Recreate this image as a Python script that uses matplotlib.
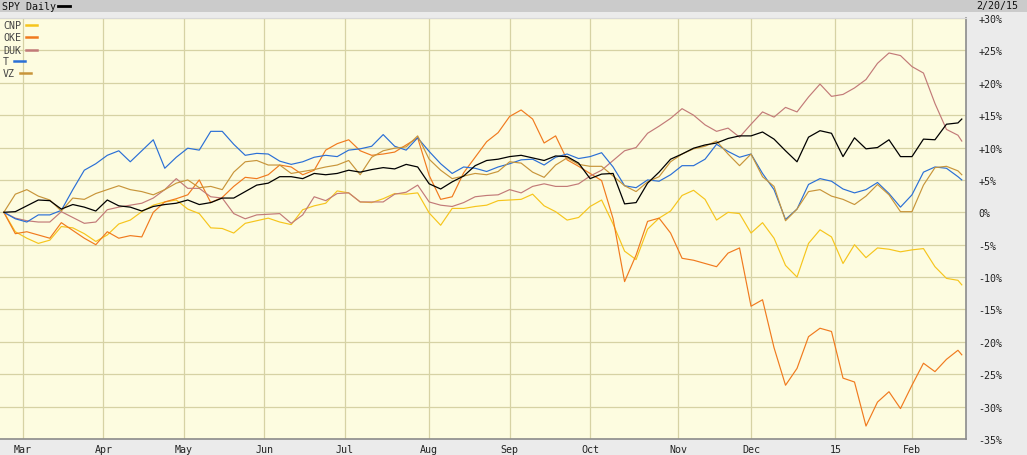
import numpy as np
import matplotlib
matplotlib.use('Agg')
import matplotlib.pyplot as plt
from matplotlib.patches import Rectangle
from matplotlib.lines import Line2D

# trading-day index since 2/24/14, sampled every 3 sessions, last point 2/20/15
days = np.r_[np.arange(0, 250, 3), 250]

# % change since start
spy = [0, 0.1, 1.0, 1.9, 1.8, 0.5, 1.2, 0.8, 0.2, 1.9,
       1.0, 0.8, 0.2, 0.9, 1.2, 1.4, 1.9, 1.2, 1.5, 2.2,
       2.2, 3.2, 4.2, 4.5, 5.5, 5.5, 5.2, 6.0, 5.8, 6.0,
       6.5, 6.2, 6.6, 6.9, 6.7, 7.4, 7.0, 4.4, 3.6, 4.7,
       5.6, 7.2, 8.0, 8.2, 8.6, 8.8, 8.4, 8.0, 8.7, 8.6,
       7.6, 5.2, 5.9, 6.0, 1.3, 1.5, 4.5, 6.2, 8.2, 9.0,
       9.9, 10.4, 10.7, 11.4, 11.8, 11.8, 12.4, 11.3, 9.5, 7.8,
       11.6, 12.6, 12.2, 8.6, 11.5, 9.8, 10.0, 11.2, 8.6, 8.6,
       11.3, 11.2, 13.6, 13.8, 14.4]
cnp = [0, -3.0, -4.0, -4.8, -4.3, -2.2, -2.4, -3.3, -4.5, -3.5,
       -1.8, -1.2, 0.1, 1.1, 1.6, 1.9, 0.5, -0.2, -2.4, -2.5,
       -3.2, -1.7, -1.3, -0.9, -1.5, -1.9, 0.4, 1.0, 1.4, 3.3,
       3.0, 1.6, 1.5, 2.1, 2.9, 2.8, 3.0, -0.1, -2.0, 0.6,
       0.6, 0.9, 1.1, 1.8, 1.9, 2.0, 2.8, 1.0, 0.1, -1.2,
       -0.8, 0.9, 1.9, -1.8, -6.0, -7.3, -2.6, -0.9, 0.2, 2.6,
       3.4, 2.0, -1.2, 0.0, -0.2, -3.2, -1.6, -4.0, -8.2, -10.0,
       -4.8, -2.7, -3.8, -7.9, -5.0, -7.0, -5.5, -5.7, -6.1, -5.8,
       -5.6, -8.4, -10.2, -10.5, -11.2]
oke = [0, -3.3, -3.0, -3.5, -4.0, -1.6, -2.8, -4.0, -5.0, -3.0,
       -4.0, -3.6, -3.8, 0.0, 1.6, 2.1, 2.7, 5.0, 1.5, 2.3,
       4.0, 5.4, 5.2, 5.8, 7.3, 7.0, 5.8, 6.5, 9.6, 10.6,
       11.2, 9.5, 8.8, 9.0, 9.3, 10.4, 11.5, 5.7, 2.0, 2.4,
       6.1, 8.5, 10.9, 12.3, 14.8, 15.8, 14.4, 10.7, 11.8, 8.1,
       7.1, 6.0, 4.9, -1.0, -10.7, -6.6, -1.4, -0.9, -3.2, -7.1,
       -7.4, -7.9, -8.4, -6.3, -5.5, -14.5, -13.5, -20.9, -26.7, -24.1,
       -19.2, -17.9, -18.4, -25.6, -26.2, -33.0, -29.3, -27.7, -30.3, -26.7,
       -23.3, -24.6, -22.7, -21.3, -22.0]
duk = [0, -0.9, -1.3, -1.5, -1.5, 0.1, -0.8, -1.7, -1.5, 0.4,
       0.8, 1.1, 1.4, 2.2, 3.5, 5.2, 3.7, 3.7, 2.4, 2.2,
       -0.2, -1.0, -0.4, -0.3, -0.2, -1.7, -0.4, 2.4, 1.8, 2.9,
       3.0, 1.6, 1.6, 1.6, 2.8, 3.1, 4.2, 1.6, 1.1, 0.9,
       1.5, 2.4, 2.6, 2.7, 3.5, 3.0, 4.0, 4.4, 4.0, 4.0,
       4.4, 5.6, 6.5, 8.0, 9.5, 10.0, 12.2, 13.3, 14.5, 16.0,
       15.0, 13.5, 12.5, 13.0, 11.6, 13.6, 15.5, 14.7, 16.2, 15.5,
       17.8, 19.8, 17.9, 18.2, 19.2, 20.5, 23.0, 24.6, 24.2, 22.5,
       21.5, 16.8, 12.8, 11.9, 11.0]
t = [0, -1.0, -1.5, -0.4, -0.4, 0.3, 3.5, 6.5, 7.5, 8.8,
     9.5, 7.8, 9.5, 11.2, 6.8, 8.5, 9.9, 9.6, 12.5, 12.5,
     10.5, 8.8, 9.1, 9.0, 7.9, 7.4, 7.8, 8.5, 8.8, 8.6,
     9.6, 9.8, 10.2, 12.0, 10.2, 9.6, 11.5, 9.4, 7.5, 6.0,
     7.0, 6.8, 6.3, 7.0, 7.5, 8.1, 8.2, 7.3, 8.5, 9.0,
     8.3, 8.6, 9.2, 7.0, 4.1, 3.8, 5.0, 4.8, 5.8, 7.2,
     7.2, 8.2, 10.5, 9.4, 8.5, 9.0, 6.0, 3.5, -1.1, 0.5,
     4.3, 5.2, 4.8, 3.6, 3.0, 3.5, 4.6, 2.9, 0.8, 2.7,
     6.2, 7.0, 6.8, 5.5, 5.0]
vz = [0, 2.8, 3.5, 2.5, 1.9, 0.2, 2.2, 2.0, 2.9, 3.5,
      4.1, 3.5, 3.2, 2.7, 3.5, 4.5, 5.0, 3.8, 4.0, 3.5,
      6.2, 7.8, 8.0, 7.3, 7.3, 6.0, 6.3, 6.6, 7.0, 7.3,
      8.0, 5.8, 8.5, 9.5, 9.9, 10.1, 11.8, 8.2, 6.5, 5.2,
      5.6, 6.0, 5.8, 6.3, 7.8, 7.6, 6.2, 5.4, 7.3, 8.4,
      7.4, 7.1, 7.1, 5.6, 4.1, 3.2, 4.7, 5.5, 7.8, 9.0,
      9.8, 10.2, 11.0, 9.0, 7.2, 9.0, 5.5, 4.0, -1.3, 0.5,
      3.2, 3.5, 2.5, 2.0, 1.2, 2.5, 4.3, 2.7, 0.1, 0.1,
      4.2, 6.9, 7.1, 6.4, 5.8]

# first session of each month (index) and label
month_idx = [5, 26, 47, 68, 89, 111, 132, 153, 176, 195, 217, 237]
month_lab = ['Mar', 'Apr', 'May', 'Jun', 'Jul', 'Aug', 'Sep', 'Oct', 'Nov', 'Dec', '15', 'Feb']
pct_ticks = list(range(-35, 31, 5))

names = ['CNP', 'OKE', 'DUK', 'T', 'VZ']
colors = ['#f6c51c', '#f07a1e', '#c27a78', '#2a6fd6', '#c8953a']

W, H = 1027, 456
mono = 'DejaVu Sans Mono'
fs = 7.2

fig = plt.figure(figsize=(W / 100, H / 100), dpi=100, facecolor='#ebebeb')

# header bar
fig.patches.append(Rectangle((0, 1 - 13 / H), 1, 13 / H, transform=fig.transFigure,
                             facecolor='#cbcbcb', edgecolor='none', zorder=0))
fig.text(2 / W, 1 - 6.5 / H, 'SPY Daily', family=mono, size=fs, color='#111', va='center')
fig.add_artist(Line2D([58 / W, 70 / W], [1 - 6.5 / H] * 2, color='black', lw=2.0,
                      transform=fig.transFigure))
fig.text(1018 / W, 1 - 6.5 / H, '2/20/15', family=mono, size=fs, color='#111',
         va='center', ha='right')

ax = fig.add_axes([0, 1 - 440 / H, 966 / W, 421 / H])
ax.set_facecolor('#fdfce0')

for s, c in zip([cnp, oke, duk, t, vz], colors):
    ax.plot(days, s, color=c, lw=0.85)
ax.plot(days, spy, color='black', lw=0.9)

ax.set_xlim(-1.0, 251.1)
ax.set_ylim(-35, 30)
ax.set_xticks(month_idx)
ax.set_xticklabels(month_lab, family=mono, size=fs, color='#222')
ax.set_yticks(pct_ticks)
ax.set_yticklabels([('+%d%%' % v) if v > 0 else ('%d%%' % v) for v in pct_ticks],
                   family=mono, size=fs, color='#222', ha='left')
ax.yaxis.tick_right()
ax.tick_params(axis='y', length=0, pad=9)
ax.tick_params(axis='x', length=0, pad=3.5)
ax.grid(True, color='#d6d2a4', lw=0.9)
ax.set_axisbelow(True)

ax.spines['left'].set_visible(False)
ax.spines['top'].set_color('#d8d8d8')
ax.spines['right'].set_color('#8c8c8c')
ax.spines['bottom'].set_color('#8c8c8c')
ax.spines['right'].set_linewidth(1.2)
ax.spines['bottom'].set_linewidth(1.2)

# legend in the top-left corner
leg_y = [26, 38, 51, 62, 74]
for name, c, y in zip(names, colors, leg_y):
    fig.text(3 / W, 1 - y / H, name, family=mono, size=fs, color='#444', va='center')
    x0 = 3 + 6 * len(name) + 5
    fig.add_artist(Line2D([x0 / W, (x0 + 11) / W], [1 - y / H] * 2, color=c, lw=1.8,
                          transform=fig.transFigure))

fig.savefig('out.png', dpi=100, facecolor=fig.get_facecolor())
